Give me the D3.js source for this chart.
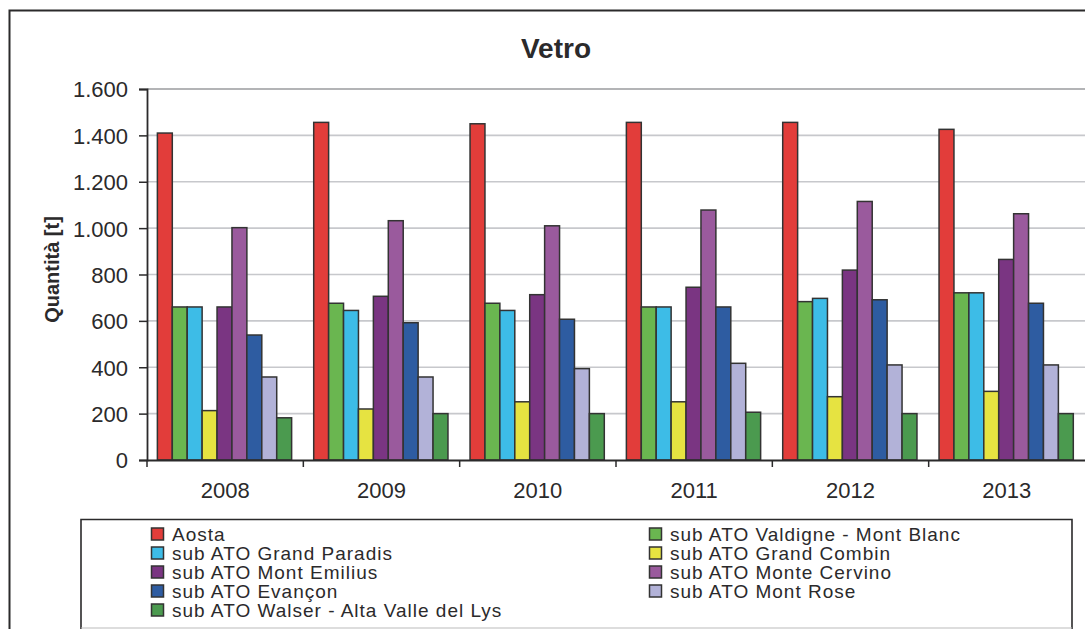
<!DOCTYPE html>
<html>
<head>
<meta charset="utf-8">
<script src="https://cdn.jsdelivr.net/npm/d3@7"></script>
<style>
  body { margin: 0; background: #fff; }
  svg { display: block; font-family: "Liberation Sans", Arial, sans-serif; }
</style>
</head>
<body>
<div id="chart"></div>
<script>
// data
var years = ["2008", "2009", "2010", "2011", "2012", "2013"];
var series = [
  "Aosta",
  "sub ATO Valdigne - Mont Blanc",
  "sub ATO Grand Paradis",
  "sub ATO Grand Combin",
  "sub ATO Mont Emilius",
  "sub ATO Monte Cervino",
  "sub ATO Evançon",
  "sub ATO Mont Rose",
  "sub ATO Walser - Alta Valle del Lys"
];
var colors = ["#e23d3a", "#6ab650", "#3dbce7", "#e6e341", "#7a3582", "#9a5a9d", "#2e5ca1", "#b2b2d8", "#4b9a4f"];

var aosta        = [1410, 1456, 1450, 1456, 1456, 1426];
var valdigne     = [660, 676, 676, 660, 683, 721];
var grandParadis = [660, 645, 645, 660, 697, 721];
var grandCombin  = [213, 220, 251, 251, 273, 296];
var montEmilius  = [660, 706, 713, 745, 819, 865];
var monteCervino = [1002, 1032, 1010, 1078, 1115, 1062];
var evancon      = [539, 592, 607, 660, 691, 676];
var montRose     = [358, 358, 394, 417, 410, 410];
var walser       = [182, 200, 200, 206, 200, 200];
var values = [aosta, valdigne, grandParadis, grandCombin, montEmilius, monteCervino, evancon, montRose, walser];

var yTicks = [0, 200, 400, 600, 800, 1000, 1200, 1400, 1600];

var W = 1085, H = 629;
var ink = "#2b2a2b";

var svg = d3.select("#chart").append("svg")
  .attr("width", W)
  .attr("height", H);

// outer frame (cut by the picture edge)
svg.append("rect")
  .attr("x", 9.5).attr("y", 10.5)
  .attr("width", W + 20).attr("height", H + 20)
  .attr("fill", "none").attr("stroke", ink).attr("stroke-width", 2);

var plotLeft = 147, plotRight = 1085, plotTop = 89, plotBottom = 460;

var x0 = d3.scaleBand().domain(years).range([plotLeft, plotRight]).padding(0);
var x1 = d3.scaleBand().domain(series).range([0, x0.bandwidth()])
  .paddingInner(0).paddingOuter(0.74).align(0.47);
var y = d3.scaleLinear().domain([0, 1600]).range([plotBottom, plotTop]);

var itLocale = d3.formatLocale({ decimal: ",", thousands: ".", grouping: [3], currency: ["€", ""] });
var fmt = itLocale.format(",d");

// gridlines
svg.append("g").selectAll("line")
  .data(yTicks.filter(function(d){ return d > 0; }))
  .enter().append("line")
  .attr("x1", plotLeft).attr("x2", plotRight)
  .attr("y1", function(d){ return y(d); })
  .attr("y2", function(d){ return y(d); })
  .attr("stroke", function(d){ return d === 1600 ? "#9a9b9e" : "#c7c8cc"; })
  .attr("stroke-width", 1.6);

// bars
var groups = svg.append("g").selectAll("g")
  .data(years)
  .enter().append("g")
  .attr("transform", function(d){ return "translate(" + x0(d) + ",0)"; });

groups.selectAll("rect")
  .data(function(d, i){
    return series.map(function(s, k){ return { s: s, k: k, v: values[k][i] }; });
  })
  .enter().append("rect")
  .attr("x", function(d){ return x1(d.s); })
  .attr("width", x1.bandwidth())
  .attr("y", function(d){ return y(d.v); })
  .attr("height", function(d){ return y(0) - y(d.v); })
  .attr("fill", function(d){ return colors[d.k]; })
  .attr("stroke", "#333")
  .attr("stroke-width", 1.5);

// y axis
var yAxis = svg.append("g")
  .attr("transform", "translate(" + plotLeft + ",0)")
  .call(d3.axisLeft(y).tickValues(yTicks).tickFormat(fmt).tickSize(8).tickPadding(11));
yAxis.select(".domain").attr("stroke", ink).attr("stroke-width", 1.8);
yAxis.selectAll(".tick line").attr("stroke", ink).attr("stroke-width", 1.5);
yAxis.selectAll(".tick text")
  .attr("fill", ink)
  .style("font-size", "22px")
  .attr("dy", "0.36em");

// x axis
var xAxis = svg.append("g")
  .attr("transform", "translate(0," + plotBottom + ")")
  .call(d3.axisBottom(x0).tickSize(0).tickPadding(22));
xAxis.select(".domain").attr("stroke", ink).attr("stroke-width", 1.8);
xAxis.selectAll(".tick text")
  .attr("fill", ink)
  .style("font-size", "22px");

// category separators on the x axis
svg.append("g").selectAll("line")
  .data(years)
  .enter().append("line")
  .attr("x1", function(d){ return x0(d); })
  .attr("x2", function(d){ return x0(d); })
  .attr("y1", plotBottom).attr("y2", plotBottom + 7)
  .attr("stroke", ink).attr("stroke-width", 1.5);

// title
svg.append("text")
  .attr("x", 556).attr("y", 58)
  .attr("text-anchor", "middle")
  .attr("fill", ink)
  .style("font-size", "28px")
  .style("font-weight", "bold")
  .text("Vetro");

// y axis title
svg.append("text")
  .attr("transform", "translate(59," + ((plotTop + plotBottom) / 2 - 5) + ") rotate(-90)")
  .attr("text-anchor", "middle")
  .attr("fill", ink)
  .style("font-size", "20px")
  .style("font-weight", "bold")
  .text("Quantità [t]");

// legend
var legend = svg.append("g");
legend.append("path")
  .attr("d", "M81,640 V519.5 H1072 V640")
  .attr("fill", "none").attr("stroke", ink).attr("stroke-width", 1.6);
legend.append("line")
  .attr("x1", 81).attr("x2", 1072).attr("y1", 628).attr("y2", 628)
  .attr("stroke", "#bcbcbc").attr("stroke-width", 1.2);

var items = legend.selectAll("g.item")
  .data(series)
  .enter().append("g")
  .attr("class", "item")
  .attr("transform", function(d, i){
    var col = i % 2, row = Math.floor(i / 2);
    return "translate(" + (col ? 649 : 151) + "," + (534 + row * 19) + ")";
  });

items.append("rect")
  .attr("x", 0.5).attr("y", -6)
  .attr("width", 12).attr("height", 12)
  .attr("fill", function(d, i){ return colors[i]; })
  .attr("stroke", "#333").attr("stroke-width", 1.5);

items.append("text")
  .attr("x", 21).attr("y", 6.8)
  .attr("fill", ink)
  .style("font-size", "19px")
  .style("letter-spacing", "1px")
  .text(function(d){ return d; });
</script>
</body>
</html>
